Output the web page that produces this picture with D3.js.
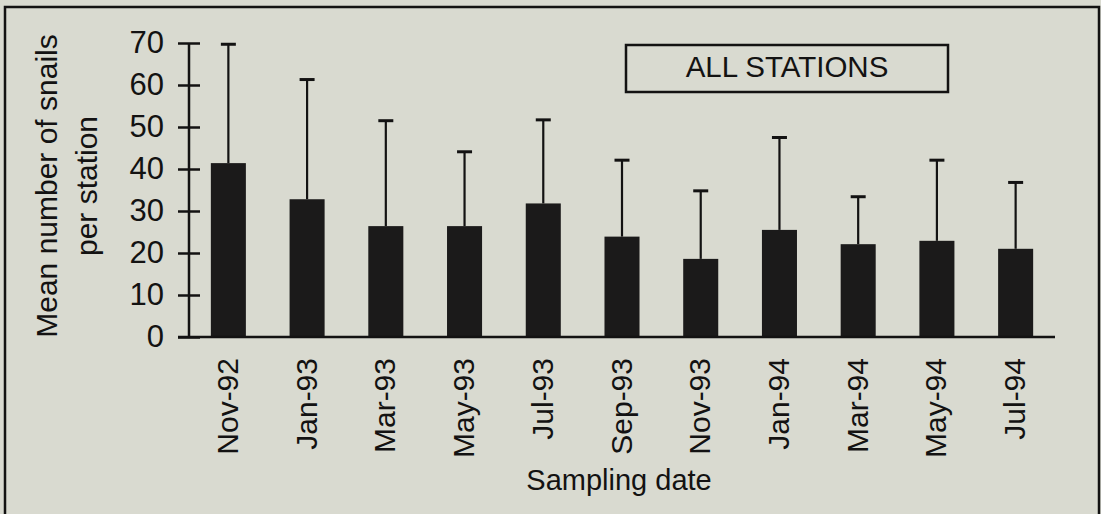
<!DOCTYPE html>
<html>
<head>
<meta charset="utf-8">
<script src="https://cdn.jsdelivr.net/npm/d3@7"></script>
<style>
  html, body { margin: 0; padding: 0; background: #d9dad0; }
  svg { display: block; }
  text { font-family: "Liberation Sans", Arial, Helvetica, sans-serif; fill: #131212; }
</style>
</head>
<body>
<svg id="chart" width="1101" height="514"></svg>
<script>
// Sampling dates
const dates = ["Nov-92", "Jan-93", "Mar-93", "May-93", "Jul-93", "Sep-93",
               "Nov-93", "Jan-94", "Mar-94", "May-94", "Jul-94"];
// Mean number of snails per station
const means = [41.4, 32.8, 26.4, 26.4, 31.8, 23.9, 18.6, 25.5, 22.1, 22.9, 21.0];
// Standard deviation (drawn as upper error bar)
const sds = [28.3, 28.5, 25.1, 17.7, 19.9, 18.2, 16.2, 22.0, 11.3, 19.2, 15.8];
// Y axis tick values
const yTicks = [0, 10, 20, 30, 40, 50, 60, 70];

const svg = d3.select("#chart");
const ink = "#131212";

const plot = { left: 189, right: 1055, top: 43, bottom: 337 };

const x = d3.scaleBand()
  .domain(dates)
  .range([plot.left, plot.right])
  .paddingInner(0.555)
  .paddingOuter(0.2775);

const y = d3.scaleLinear()
  .domain([0, 70])
  .range([plot.bottom, plot.top]);

// outer frame
svg.append("rect")
  .attr("x", 5).attr("y", 7)
  .attr("width", 1094).attr("height", 530)
  .attr("fill", "none")
  .attr("stroke", ink)
  .attr("stroke-width", 2.5);

// error bars (upper only)
const eb = svg.append("g").attr("class", "errorbars");
dates.forEach((d, i) => {
  const cx = x(d) + x.bandwidth() / 2;
  eb.append("line")
    .attr("x1", cx).attr("x2", cx)
    .attr("y1", y(means[i])).attr("y2", y(means[i] + sds[i]))
    .attr("stroke", ink).attr("stroke-width", 2.2);
  eb.append("line")
    .attr("x1", cx - 7.5).attr("x2", cx + 7.5)
    .attr("y1", y(means[i] + sds[i])).attr("y2", y(means[i] + sds[i]))
    .attr("stroke", ink).attr("stroke-width", 3);
});

// bars
svg.append("g").selectAll("rect")
  .data(dates)
  .join("rect")
  .attr("x", d => x(d))
  .attr("y", (d, i) => y(means[i]))
  .attr("width", x.bandwidth())
  .attr("height", (d, i) => y(0) - y(means[i]))
  .attr("fill", "#1b1a1a");

// y axis: ticks cross the axis line
const yAxis = d3.axisLeft(y)
  .tickValues(yTicks)
  .tickSize(0)
  .tickPadding(25);
const gy = svg.append("g")
  .attr("transform", `translate(${plot.left},0)`)
  .call(yAxis);
gy.select(".domain").remove();
gy.selectAll(".tick line").remove();
gy.selectAll(".tick").append("line")
  .attr("x1", -11).attr("x2", 11)
  .attr("stroke", ink).attr("stroke-width", 2.5);
gy.append("line")
  .attr("x1", 0).attr("x2", 0)
  .attr("y1", y(0)).attr("y2", y(70))
  .attr("stroke", ink).attr("stroke-width", 2.5);
gy.selectAll(".tick text")
  .attr("font-size", 31)
  .attr("fill", ink)
  .attr("font-family", "Liberation Sans, Arial, sans-serif");

// x axis baseline
svg.append("line")
  .attr("x1", plot.left - 11).attr("x2", plot.right)
  .attr("y1", y(0)).attr("y2", y(0))
  .attr("stroke", ink).attr("stroke-width", 2.5);

// x tick labels, rotated
const xAxis = d3.axisBottom(x).tickSize(0).tickPadding(0);
const gx = svg.append("g")
  .attr("transform", `translate(0,${y(0)})`)
  .call(xAxis);
gx.select(".domain").remove();
gx.selectAll(".tick text")
  .attr("font-size", 30)
  .attr("fill", ink)
  .attr("font-family", "Liberation Sans, Arial, sans-serif")
  .attr("text-anchor", "end")
  .attr("dy", null)
  .attr("y", 0)
  .attr("transform", "translate(9.5,21) rotate(-90)");

// axis titles
svg.append("text")
  .attr("x", (plot.left + plot.right) / 2 - 3)
  .attr("y", 490)
  .attr("text-anchor", "middle")
  .attr("font-size", 29)
  .text("Sampling date");

const yTitle = svg.append("text")
  .attr("transform", `translate(0,186) rotate(-90)`)
  .attr("text-anchor", "middle")
  .attr("font-size", 30);
yTitle.append("tspan").attr("x", 0).attr("y", 57).text("Mean number of snails");
yTitle.append("tspan").attr("x", 0).attr("y", 97).text("per station");

// label box
svg.append("rect")
  .attr("x", 626).attr("y", 45)
  .attr("width", 322).attr("height", 47)
  .attr("fill", "none")
  .attr("stroke", ink)
  .attr("stroke-width", 2.5);
svg.append("text")
  .attr("x", 787).attr("y", 76.5)
  .attr("text-anchor", "middle")
  .attr("font-size", 29.5)
  .text("ALL STATIONS");
</script>
</body>
</html>
